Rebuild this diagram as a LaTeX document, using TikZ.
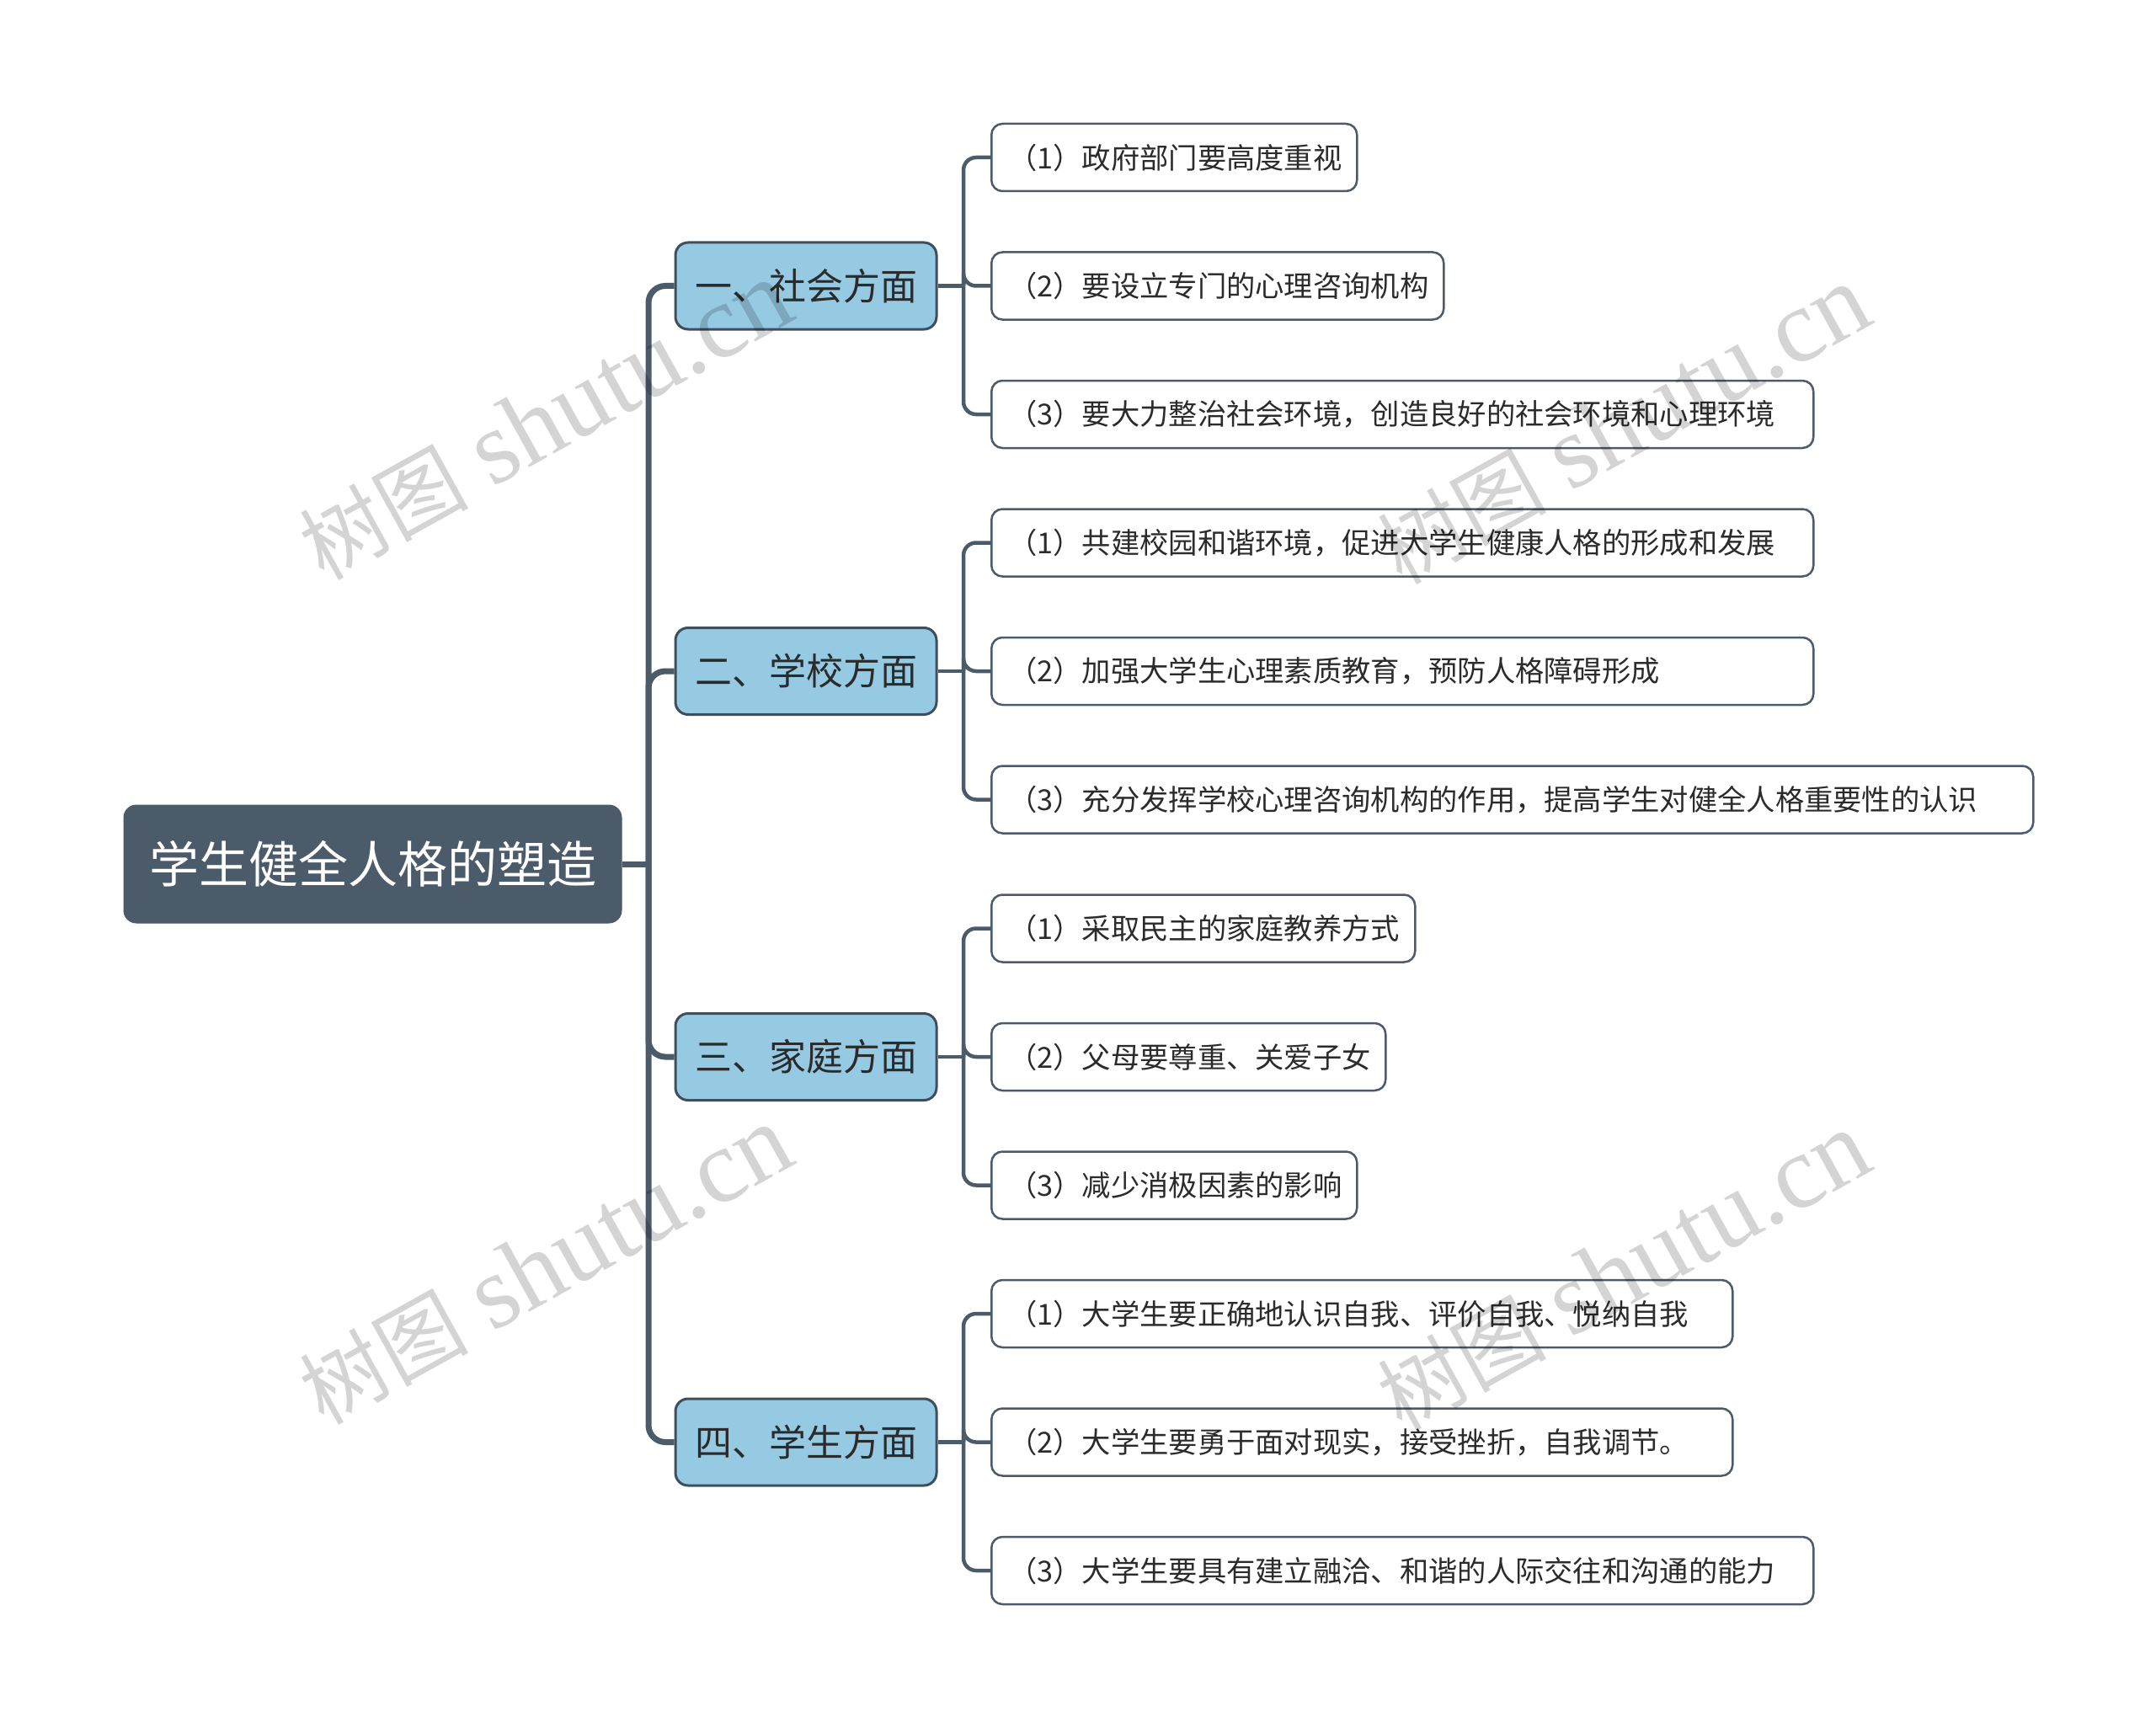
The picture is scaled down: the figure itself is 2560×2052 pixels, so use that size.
\documentclass[tikz,border=0pt]{standalone}
\usepackage{fontspec}
\setmainfont{Noto Sans CJK SC}
\newfontfamily\wmlatin{Liberation Serif}
\newfontfamily\wmcjk{Noto Sans CJK SC}
\definecolor{slate}{HTML}{4B5B6A}
\definecolor{catblue}{HTML}{96CAE3}
\definecolor{catborder}{HTML}{3E4E5C}
\definecolor{txtdark}{HTML}{2B2B2B}
\newcommand{\wmtext}{{\fontsize{100}{110}\selectfont\wmcjk 树图}\hspace{28pt}{\fontsize{124}{136}\selectfont\wmlatin shutu.cn}}
\begin{document}
\begin{tikzpicture}[x=1pt,y=-1pt,
  rootbox/.style={rectangle, rounded corners=15pt, fill=slate, draw=slate, line width=1pt,
    text=white, font=\fontsize{59}{66}\selectfont, minimum width=591pt, minimum height=140pt, inner sep=0pt},
  catbox/.style={rectangle, rounded corners=15pt, fill=catblue, draw=catborder, line width=3pt,
    text=txtdark, font=\fontsize{44}{50}\selectfont, minimum width=310pt, minimum height=103pt, inner sep=0pt},
  leafbox/.style={rectangle, rounded corners=13pt, fill=white, draw=slate, line width=2.5pt,
    text=txtdark, font=\fontsize{34.3}{40}\selectfont, minimum height=80pt, inner xsep=20pt, inner ysep=0pt,
    anchor=west, align=left},
  mainline/.style={draw=slate, line width=7pt},
  leafline/.style={draw=slate, line width=4.5pt},
  wmark/.style={text=black, opacity=0.17, rotate=29, inner sep=0pt}
]
\useasboundingbox[fill=white] (0,0) rectangle (2560,2052);

% root
\node[rootbox] (root) at (442.5,1026) {学生健全人格的塑造};

% categories
\node[catbox] (c1) at (957,339.5) {一、社会方面};
\node[catbox] (c2) at (957,797) {二、学校方面};
\node[catbox] (c3) at (957,1255) {三、家庭方面};
\node[catbox] (c4) at (957,1712.5) {四、学生方面};

% leaves
\node[leafbox, text width=394pt] (l11) at (1176,187) {（1）政府部门要高度重视};
\node[leafbox, text width=497pt] (l12) at (1176,339.5) {（2）要设立专门的心理咨询机构};
\node[leafbox, text width=936pt] (l13) at (1176,492) {（3）要大力整治社会环境，创造良好的社会环境和心理环境};

\node[leafbox, text width=936pt] (l21) at (1176,644.5) {（1）共建校园和谐环境，促进大学生健康人格的形成和发展};
\node[leafbox, text width=936pt] (l22) at (1176,797) {（2）加强大学生心理素质教育，预防人格障碍形成};
\node[leafbox, text width=1197pt] (l23) at (1176,949.5) {（3）充分发挥学校心理咨询机构的作用，提高学生对健全人格重要性的认识};

\node[leafbox, text width=463pt] (l31) at (1176,1102.5) {（1）采取民主的家庭教养方式};
\node[leafbox, text width=428pt] (l32) at (1176,1255) {（2）父母要尊重、关爱子女};
\node[leafbox, text width=394pt] (l33) at (1176,1407.5) {（3）减少消极因素的影响};

\node[leafbox, text width=840pt] (l41) at (1176,1560) {（1）大学生要正确地认识自我、评价自我、悦纳自我};
\node[leafbox, text width=840pt] (l42) at (1176,1712.5) {（2）大学生要勇于面对现实，接受挫折，自我调节。};
\node[leafbox, text width=936pt] (l43) at (1176,1865) {（3）大学生要具有建立融洽、和谐的人际交往和沟通的能力};

% trunk junctions
\coordinate (t0) at (770,1026);
\coordinate (t1) at (1144,339.5);
\coordinate (t2) at (1144,797);
\coordinate (t3) at (1144,1255);
\coordinate (t4) at (1144,1712.5);

% root to categories
\draw[mainline] (root.east) -- (t0);
\foreach \c in {c1,c2,c3,c4}
  \draw[mainline, rounded corners=20pt] (t0) |- (\c.west);

% categories to leaves
\foreach \k in {1,2,3,4}{
  \draw[leafline] (c\k.east) -- (t\k);
  \foreach \j in {1,2,3}
    \draw[leafline, rounded corners=15pt] (t\k) |- (l\k\j.west);
}

% watermarks
\node[wmark] (wm1) at (648,500) {\wmtext};
\node[wmark] (wm2) at (1928,505) {\wmtext};
\node[wmark] (wm3) at (648,1503) {\wmtext};
\node[wmark] (wm4) at (1928,1510) {\wmtext};
\end{tikzpicture}
\end{document}
